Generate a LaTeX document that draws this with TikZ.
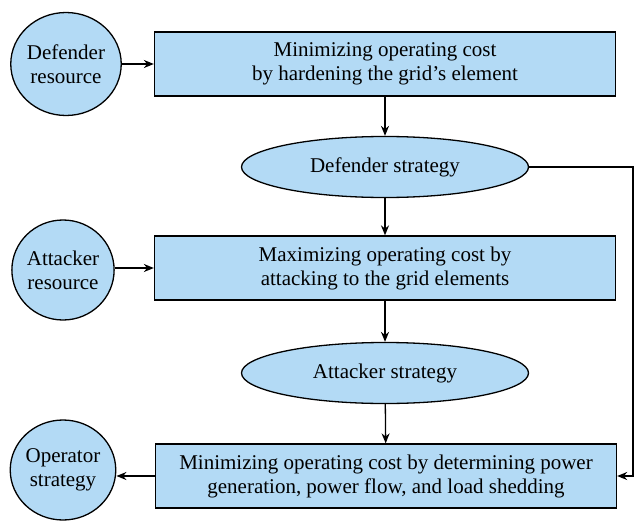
\documentclass[tikz,border=0pt]{standalone}
\usepackage{fontspec}
\setmainfont{Liberation Serif}
\usetikzlibrary{shapes.geometric,arrows.meta}
\definecolor{fillblue}{RGB}{179,218,245}
\tikzset{
  every node/.style={font=\fontsize{21}{24}\selectfont, align=center, inner sep=0pt},
  boxnode/.style={draw, line width=1.3pt, fill=fillblue, minimum width=461pt, minimum height=64pt},
  ellnode/.style={draw, line width=1.3pt, fill=fillblue, ellipse, minimum width=287pt, minimum height=61pt},
  circnode/.style={draw, line width=1.3pt, fill=fillblue, ellipse, minimum width=102pt, minimum height=103pt},
  conn/.style={line width=1.3pt, -{Stealth[length=10pt,width=8pt]}}
}
\begin{document}
\begin{tikzpicture}[x=1pt,y=-1pt]
\useasboundingbox (0,0) rectangle (636,524);
\node[circnode] (dr) at (66,64) {Defender\\resource};
\node[boxnode] (b1) at (385,64) {Minimizing operating cost\\by hardening the grid’s element};
\node[ellnode] (ds) at (385,167) {Defender strategy};
\node[circnode, minimum width=98pt, minimum height=100pt] (ar) at (63,270) {Attacker\\resource};
\node[boxnode] (b2) at (385,268) {Maximizing operating cost by\\attacking to the grid elements};
\node[ellnode] (as) at (385,373) {Attacker strategy};
\node[circnode, minimum width=98pt, minimum height=100pt] (os) at (63,470) {Operator\\strategy};
\node[boxnode] (b3) at (386,476) {Minimizing operating cost by determining power\\generation, power flow, and load shedding};
\coordinate (r1) at (633,167);
\coordinate (r2) at (633,476);
\draw[conn] (dr.east |- b1.west) -- (b1.west);
\draw[conn] (b1) -- (ds);
\draw[conn] (ds) -- (b2);
\draw[conn] (ar.east |- b2.west) -- (b2.west);
\draw[conn] (b2) -- (as);
\draw[conn] (as) -- (b3);
\draw[conn] (b3.west) -- (os.east |- b3.west);
\draw[conn] (ds.east) -- (r1) -- (r2) -- (b3.east);
\end{tikzpicture}
\end{document}
